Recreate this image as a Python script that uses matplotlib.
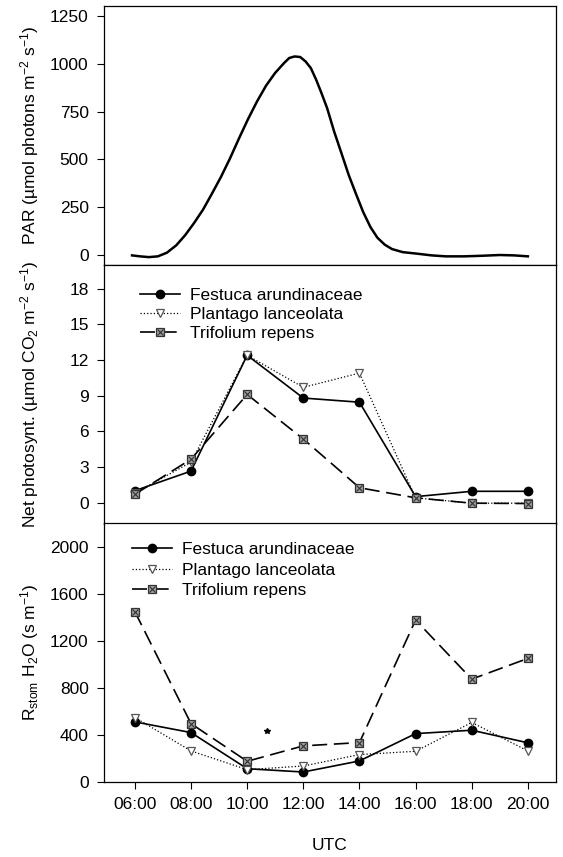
import matplotlib
matplotlib.use('Agg')
import matplotlib.pyplot as plt
from matplotlib.legend_handler import HandlerTuple

plt.rcParams['font.family'] = ['Liberation Sans', 'DejaVu Sans']
plt.rcParams['mathtext.fontset'] = 'custom'
plt.rcParams['mathtext.rm'] = 'Liberation Sans'
plt.rcParams['mathtext.it'] = 'Liberation Sans:italic'
plt.rcParams['mathtext.bf'] = 'Liberation Sans:bold'
plt.rcParams['font.size'] = 12.5

# PAR curve (hour UTC, µmol photons m-2 s-1)
par_t = [5.90, 6.18, 6.50, 6.82, 7.14, 7.47, 7.79, 8.11, 8.43, 8.75, 9.07, 9.39,
         9.71, 10.03, 10.35, 10.67, 10.99, 11.31, 11.50, 11.69, 11.89, 12.08, 12.27,
         12.46, 12.65, 12.85, 13.10, 13.36, 13.62, 13.87, 14.13, 14.39, 14.64, 14.90,
         15.16, 15.54, 16.05, 16.57, 17.08, 17.72, 18.36, 19.00, 19.51, 20.00]
par = [0, -5, -9, -5, 14, 52, 105, 169, 239, 323, 410, 506,
       610, 710, 802, 884, 950, 1002, 1029, 1037, 1034, 1011, 976,
       915, 845, 767, 645, 532, 418, 323, 227, 148, 92, 56,
       33, 17, 9, 0, -5, -5, -2, 2, 0, -5]

hours = [6, 8, 10, 12, 14, 16, 18, 20]
tick_labels = ['06:00', '08:00', '10:00', '12:00', '14:00', '16:00', '18:00', '20:00']
species = ['Festuca arundinaceae', 'Plantago lanceolata', 'Trifolium repens']

# net photosynthesis
pn_festuca = [1.0, 2.65, 12.4, 8.8, 8.45, 0.5, 0.95, 0.95]
pn_plantago = [0.8, 3.4, 12.4, 9.7, 10.9, 0.4, -0.05, -0.05]
pn_trifolium = [0.7, 3.65, 9.1, 5.35, 1.25, 0.4, -0.05, -0.08]

# stomatal resistance
rs_festuca = [511, 420, 113, 85, 179, 411, 440, 333]
rs_plantago = [548, 264, 105, 136, 233, 261, 506, 264]
rs_trifolium = [1447, 496, 176, 307, 335, 1376, 874, 1050]

# stray speck in the scan
speck_t = [10.7]
speck_v = [430]

fig = plt.figure(figsize=(5.63, 8.57), dpi=100)
left, width = 0.1847, 0.8028
ax1 = fig.add_axes([left, 0.6908, width, 0.3022])
ax2 = fig.add_axes([left, 0.3886, width, 0.3022], sharex=ax1)
ax3 = fig.add_axes([left, 0.0875, width, 0.3022], sharex=ax1)


def series(ax, y1, y2, y3):
    l1, = ax.plot(hours, y1, color='black', lw=1.2, marker='o', ms=6,
                  mfc='black', mec='black')
    l2, = ax.plot(hours, y2, color='black', lw=0.9, ls=':', marker='v', ms=6,
                  mfc='white', mec='#555555', mew=0.9)
    l3, = ax.plot(hours, y3, color='black', lw=1.2, ls=(0, (9, 4)), marker='s', ms=6,
                  mfc='#a0a0a0', mec='#333333', mew=0.9)
    # cross inside the square markers
    l3x, = ax.plot(hours, y3, ls='none', marker='x', ms=4.5, mec='#303030', mew=0.8)
    return [l1, l2, (l3, l3x)]


ax1.plot(par_t, par, color='black', lw=1.8)
ax1.set_ylim(-50, 1300)
ax1.set_yticks([0, 250, 500, 750, 1000, 1250])
ax1.set_ylabel('PAR (µmol photons m$^{-2}$ s$^{-1}$)')

h = series(ax2, pn_festuca, pn_plantago, pn_trifolium)
ax2.set_ylim(-1.8, 20)
ax2.set_yticks([0, 3, 6, 9, 12, 15, 18])
ax2.set_ylabel('Net photosynt. (µmol CO$_2$ m$^{-2}$ s$^{-1}$)')
ax2.legend(h, species, handler_map={tuple: HandlerTuple(ndivide=1)},
           loc='upper left', bbox_to_anchor=(0.079, 0.91), frameon=False,
           borderpad=0, borderaxespad=0, handlelength=2.3, handletextpad=0.6,
           labelspacing=0.2)

h = series(ax3, rs_festuca, rs_plantago, rs_trifolium)
ax3.plot(speck_t, speck_v, ls='none', marker='*', ms=4, color='black')
ax3.set_ylim(0, 2200)
ax3.set_yticks([0, 400, 800, 1200, 1600, 2000])
ax3.set_ylabel('R$_{\\mathrm{stom}}$ H$_2$O (s m$^{-1}$)')
ax3.legend(h, species, handler_map={tuple: HandlerTuple(ndivide=1)},
           loc='upper left', bbox_to_anchor=(0.062, 0.926), frameon=False,
           borderpad=0, borderaxespad=0, handlelength=2.3, handletextpad=0.6,
           labelspacing=0.3)

ax3.set_xlim(4.9, 21)
ax3.set_xticks(hours)
ax3.set_xticklabels(tick_labels)

for ax in (ax1, ax2, ax3):
    ax.tick_params(direction='out', length=5, width=0.8, pad=6)
    ax.yaxis.set_label_coords(-0.14, 0.5)
    for s in ax.spines.values():
        s.set_linewidth(0.9)
for ax in (ax1, ax2):
    ax.tick_params(axis='x', bottom=False, labelbottom=False)

fig.text(left + width / 2, 1 - 846 / 857, 'UTC', ha='center', va='center')

fig.savefig('out.png', dpi=100)
